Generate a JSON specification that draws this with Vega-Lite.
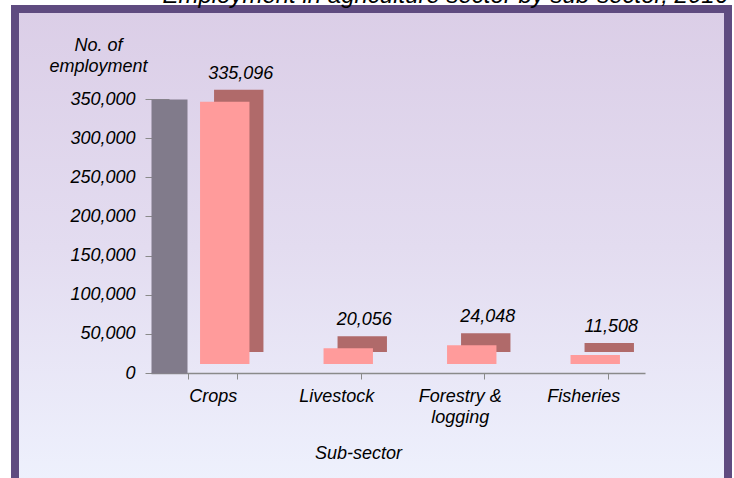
{
  "$schema": "https://vega.github.io/schema/vega-lite/v6.json",
  "width": 713,
  "height": 476,
  "autosize": "none",
  "padding": {"left": 15, "top": 9, "right": 6, "bottom": -7},
  "background": "#ffffff",
  "view": {
    "fill": {
      "gradient": "linear",
      "x1": 0, "y1": 0, "x2": 0, "y2": 1,
      "stops": [
        {"offset": 0, "color": "#dbcee7"},
        {"offset": 0.5, "color": "#e3dcf0"},
        {"offset": 1, "color": "#eef1fd"}
      ]
    },
    "stroke": "#5f4b80",
    "strokeWidth": 8
  },
  "title": {
    "text": "Employment in agriculture sector by sub-sector, 2016",
    "anchor": "end",
    "frame": "group",
    "offset": 2,
    "dy": 20,
    "baseline": "alphabetic",
    "font": "Liberation Sans",
    "fontStyle": "italic",
    "fontWeight": "normal",
    "fontSize": 24,
    "color": "#000000"
  },
  "data": {
    "values": [
      {"sector": "Crops", "employment": 335096},
      {"sector": "Livestock", "employment": 20056},
      {"sector": "Forestry & logging", "employment": 24048},
      {"sector": "Fisheries", "employment": 11508}
    ]
  },
  "encoding": {
    "x": {
      "field": "sector",
      "type": "nominal",
      "sort": null,
      "scale": {"paddingInner": 0.6, "paddingOuter": 0.3, "range": [136, 630]},
      "axis": {
        "offset": -112,
        "title": "Sub-sector",
        "titleX": 343,
        "titleY": 85,
        "titleAlign": "center",
        "titleBaseline": "alphabetic",
        "titleFont": "Liberation Sans",
        "titleFontStyle": "italic",
        "titleFontWeight": "normal",
        "titleFontSize": 18,
        "titleColor": "#000000",
        "labelAngle": 0,
        "labelExpr": "datum.label == 'Forestry & logging' ? ['Forestry &', 'logging'] : datum.label",
        "labelLineHeight": 21,
        "labelPadding": 8,
        "labelFont": "Liberation Sans",
        "labelFontStyle": "italic",
        "labelFontSize": 18,
        "labelColor": "#000000",
        "tickSize": 6,
        "tickBand": "extent",
        "tickColor": "#8a8a8a",
        "domainColor": "#8a8a8a",
        "domainWidth": 1.5,
        "grid": false
      }
    },
    "y": {
      "field": "employment",
      "type": "quantitative",
      "scale": {"domain": [0, 350000], "range": [364, 90]},
      "axis": {
        "offset": -154,
        "title": ["No. of", "employment"],
        "titleAngle": 0,
        "titleAlign": "center",
        "titleBaseline": "alphabetic",
        "titleX": -71,
        "titleY": 41,
        "titleLineHeight": 21,
        "titleFont": "Liberation Sans",
        "titleFontStyle": "italic",
        "titleFontWeight": "normal",
        "titleFontSize": 18,
        "titleColor": "#000000",
        "values": [0, 50000, 100000, 150000, 200000, 250000, 300000, 350000],
        "labelExpr": "format(datum.value, ',')",
        "labelFont": "Liberation Sans",
        "labelFontStyle": "italic",
        "labelFontSize": 18,
        "labelColor": "#000000",
        "domainWidth": 36,
        "domainColor": "#817b8b",
        "tickSize": 24,
        "tickColor": "#8a8a8a",
        "labelPadding": 10,
        "grid": false
      }
    }
  },
  "layer": [
    {"mark": {"type": "bar", "color": "#b06a6a", "xOffset": 26, "yOffset": -21}},
    {"mark": {"type": "bar", "color": "#ff9b9b", "xOffset": 12, "yOffset": -9}},
    {
      "mark": {
        "type": "text",
        "dx": 28,
        "dy": -32,
        "baseline": "alphabetic",
        "font": "Liberation Sans",
        "fontStyle": "italic",
        "fontSize": 18,
        "color": "#000000"
      },
      "encoding": {"text": {"field": "employment", "type": "quantitative", "format": ","}}
    }
  ],
  "config": {"font": "Liberation Sans"}
}
